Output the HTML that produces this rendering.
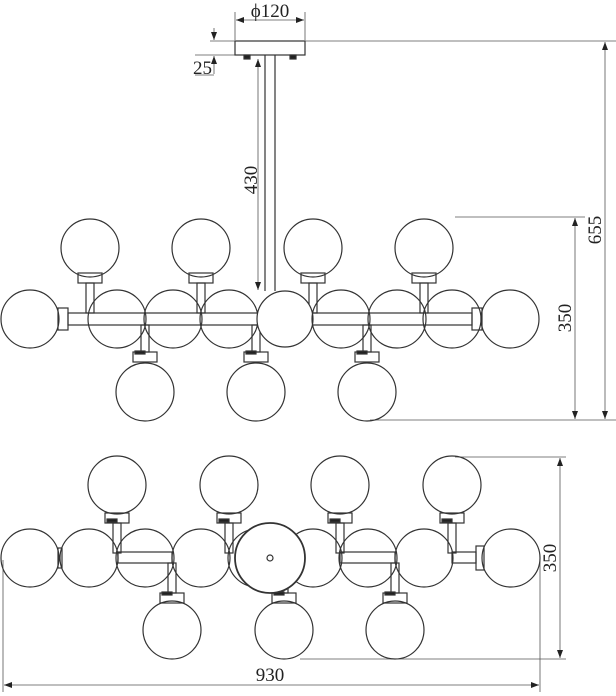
<!DOCTYPE html>
<html><head><style>body{margin:0;background:#fff}svg{display:block}</style></head>
<body>
<svg width="616" height="696" viewBox="0 0 616 696" xmlns="http://www.w3.org/2000/svg" font-family="Liberation Serif, serif" fill="none" stroke="#333" stroke-width="1.2">
<defs>
<marker id="a" markerWidth="8" markerHeight="6" refX="8" refY="3" orient="auto-start-reverse" markerUnits="userSpaceOnUse"><path d="M0,0 L8,3 L0,6z" fill="#222" stroke="none"/></marker>
<g id="tp">
<rect x="-12" y="273" width="24" height="10"/><rect x="-4" y="283" width="8" height="30"/>
<circle cx="0" cy="248" r="29"/>
</g>
<g id="bt">
<rect x="-12" y="352" width="24" height="10"/><rect x="-4" y="325" width="8" height="27"/><rect x="-10" y="351" width="10" height="3" fill="#222"/>
<circle cx="0" cy="392" r="29"/>
</g>
<g id="tp2">
<rect x="-12" y="513" width="24" height="10"/><rect x="-4" y="523" width="8" height="30"/><rect x="-10" y="519" width="10" height="3" fill="#222"/>
<circle cx="0" cy="485" r="29"/>
</g>
<g id="bt2">
<rect x="-12" y="593" width="24" height="10"/><rect x="-4" y="563" width="8" height="30"/><rect x="-10" y="592" width="10" height="3" fill="#222"/>
<circle cx="0" cy="630" r="29"/>
</g>
</defs>
<!-- dimension lines -->
<g stroke="#555" stroke-width="0.8">
<line x1="235" y1="12" x2="235" y2="40"/><line x1="305" y1="12" x2="305" y2="40"/>
<line x1="236" y1="20" x2="304" y2="20" marker-start="url(#a)" marker-end="url(#a)"/>
<line x1="305" y1="41" x2="616" y2="41"/>
<line x1="210" y1="41" x2="235" y2="41"/>
<line x1="195" y1="55" x2="235" y2="55"/>
<line x1="214" y1="28" x2="214" y2="40" marker-end="url(#a)"/>
<line x1="214" y1="74" x2="214" y2="56" marker-end="url(#a)"/>
<line x1="195" y1="75" x2="214" y2="75"/>
<line x1="258" y1="59" x2="258" y2="290" marker-start="url(#a)" marker-end="url(#a)"/>
<line x1="605" y1="42" x2="605" y2="419" marker-start="url(#a)" marker-end="url(#a)"/>
<line x1="455" y1="217" x2="585" y2="217"/>
<line x1="370" y1="420" x2="616" y2="420"/>
<line x1="575" y1="218" x2="575" y2="419" marker-start="url(#a)" marker-end="url(#a)"/>
<line x1="455" y1="457" x2="566" y2="457"/>
<line x1="300" y1="659" x2="566" y2="659"/>
<line x1="560" y1="458" x2="560" y2="658" marker-start="url(#a)" marker-end="url(#a)"/>
<line x1="3" y1="560" x2="3" y2="692"/><line x1="540" y1="560" x2="540" y2="692"/>
<line x1="4" y1="685" x2="539" y2="685" marker-start="url(#a)" marker-end="url(#a)"/>
</g>
<g fill="#222" stroke="none" font-size="19">
<text x="270" y="17" text-anchor="middle">ϕ120</text>
<text x="193" y="74">25</text>
<text x="270" y="681" text-anchor="middle">930</text>
<text transform="translate(257,180) rotate(-90)" text-anchor="middle">430</text>
<text transform="translate(601,230) rotate(-90)" text-anchor="middle">655</text>
<text transform="translate(571,318) rotate(-90)" text-anchor="middle">350</text>
<text transform="translate(556,558) rotate(-90)" text-anchor="middle">350</text>
</g>
<!-- FRONT VIEW -->
<rect x="235" y="41" width="70" height="14"/>
<rect x="244" y="55" width="6" height="4" fill="#222"/><rect x="290" y="55" width="6" height="4" fill="#222"/>
<line x1="265" y1="55" x2="265" y2="291"/><line x1="275" y1="55" x2="275" y2="291"/>
<rect x="68" y="313" width="404" height="12"/>
<rect x="58" y="308" width="10" height="22"/><rect x="472" y="308" width="10" height="22"/>
<use href="#tp" x="90"/><use href="#tp" x="201"/><use href="#tp" x="313"/><use href="#tp" x="424"/>
<use href="#bt" x="145"/><use href="#bt" x="256"/><use href="#bt" x="367"/>
<g>
<circle cx="30" cy="319" r="29"/><circle cx="117" cy="319" r="29"/><circle cx="173" cy="319" r="29"/><circle cx="229" cy="319" r="29"/>
<circle cx="285" cy="319" r="28" fill="#fff"/><circle cx="341" cy="319" r="29"/><circle cx="397" cy="319" r="29"/><circle cx="452" cy="319" r="29"/><circle cx="510" cy="319" r="29"/>
</g>
<!-- PLAN VIEW -->
<rect x="118" y="552" width="54" height="11"/><rect x="340" y="552" width="55" height="11"/><rect x="452" y="552" width="24" height="11"/>
<rect x="476" y="546" width="8" height="24"/>
<rect x="58" y="548" width="4" height="20"/>
<use href="#tp2" x="117"/><use href="#tp2" x="229"/><use href="#tp2" x="340"/><use href="#tp2" x="452"/>
<use href="#bt2" x="172"/><use href="#bt2" x="284"/><use href="#bt2" x="395"/>
<circle cx="30" cy="558" r="29"/><circle cx="89" cy="558" r="29"/><circle cx="145" cy="558" r="29"/><circle cx="201" cy="558" r="29"/>
<circle cx="257" cy="558" r="29"/><circle cx="313" cy="558" r="29"/>
<circle cx="368" cy="558" r="29"/><circle cx="424" cy="558" r="29"/><circle cx="511" cy="558" r="29"/>
<circle cx="270" cy="558" r="35" fill="#fff" stroke-width="1.8"/>
<circle cx="270" cy="558" r="3"/>
</svg>
</body></html>
